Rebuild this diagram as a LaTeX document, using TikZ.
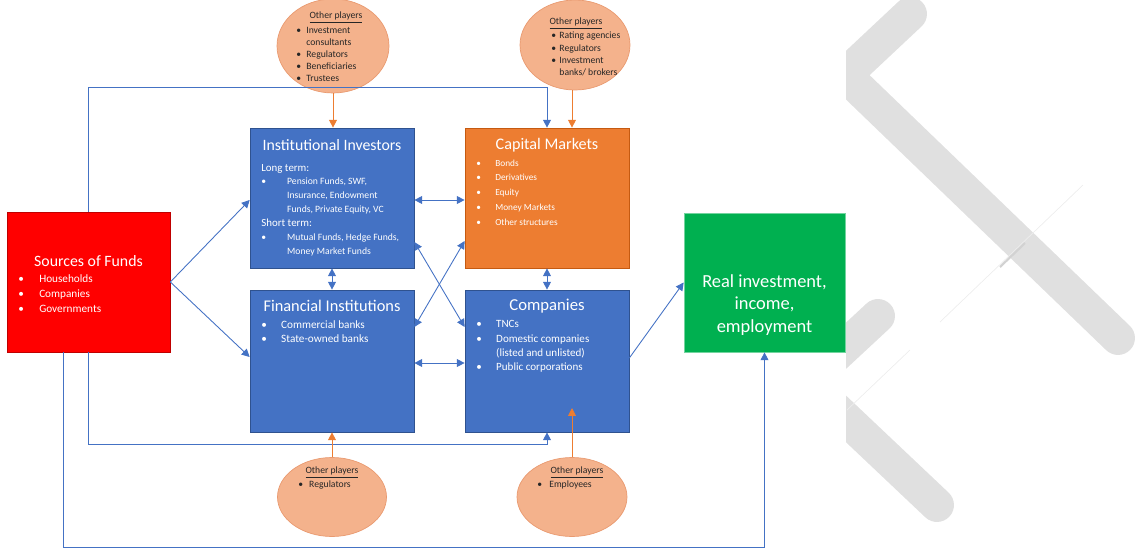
\documentclass[tikz,border=0pt]{standalone}
\usepackage{fontspec}
\setmainfont{Carlito}
\usetikzlibrary{arrows.meta,shapes.geometric}
\definecolor{bblue}{HTML}{4472C4}
\definecolor{bbord}{HTML}{2F528F}
\definecolor{corange}{HTML}{ED7D31}
\definecolor{oborder}{HTML}{C55A11}
\definecolor{sred}{HTML}{FF0000}
\definecolor{ggreen}{HTML}{00B050}
\definecolor{salmon}{HTML}{F4B28C}
\definecolor{salbord}{HTML}{E99A70}
\definecolor{bggray}{HTML}{E0E0E0}
\definecolor{lnblue}{HTML}{4472C4}
\definecolor{etext}{HTML}{262626}
\newcommand{\bu}[1]{\makebox[#1][l]{\textbullet}}
\newcommand{\bi}[1]{\makebox[#1][l]{}}
\tikzset{
  panel/.style={rectangle, draw, line width=0.4pt, inner sep=0pt},
  bluebox/.style={panel, fill=bblue, draw=bbord},
  orangebox/.style={panel, fill=corange, draw=oborder},
  redbox/.style={panel, fill=sred, draw=sred!75!black},
  greenbox/.style={panel, fill=ggreen, draw=ggreen!55!white},
  oval/.style={ellipse, fill=salmon, draw=salbord, line width=0.4pt, inner sep=0pt},
  wtxt/.style={text=white, inner sep=0pt},
  etxt/.style={text=etext, inner sep=0pt},
  conn/.style={draw=lnblue, line width=0.5pt},
  oconn/.style={draw=corange, line width=0.5pt},
  bgband/.style={draw=bggray, line width=19.3pt, line cap=round, line join=round},
  faint/.style={draw=gray!14, line width=0.4pt},
}
\begin{document}
\begin{tikzpicture}[x=0.02cm, y=-0.02cm, >={Triangle[length=4.5pt,width=4.5pt]}]
\useasboundingbox (0,0) rectangle (1137,548);
% background decoration
\begin{scope}
  \clip (846,0) rectangle (1137,548);
  \draw[bgband] (910,14) -- (845,75) -- (1118,338);
  \draw[bgband] (878,316) -- (807,382) -- (937,505);
  \draw[faint] (1083,185) -- (940,322);
  \draw[faint] (910,350) -- (847,410);
  \draw[draw=gray!35, line width=1.2pt] (1000,267) -- (1025,243);
\end{scope}

% boxes
\node[redbox, minimum width=3.26cm, minimum height=2.8cm] (src) at (88.5,282) {};
\node[bluebox, minimum width=3.28cm, minimum height=2.8cm] (inst) at (332,198) {};
\node[orangebox, minimum width=3.28cm, minimum height=2.8cm] (cap) at (547,198) {};
\node[bluebox, minimum width=3.28cm, minimum height=2.84cm] (fin) at (332,361) {};
\node[bluebox, minimum width=3.28cm, minimum height=2.84cm] (comp) at (547,361) {};
\node[greenbox, minimum width=3.22cm, minimum height=2.78cm] (real) at (764.5,282.5) {};

% ellipses
\node[oval, minimum width=2.24cm, minimum height=1.88cm] (tl) at (333,46) {};
\node[oval, minimum width=2.2cm, minimum height=1.8cm] (tr) at (575,45) {};
\node[oval, minimum width=2.18cm, minimum height=1.58cm] (bl) at (332,497) {};
\node[oval, minimum width=2.2cm, minimum height=1.58cm] (br) at (572,497) {};

% box texts
\node[wtxt, font=\fontsize{9}{11}\selectfont] (srct) at (88.5,261) {Sources of Funds};
\node[wtxt, anchor=west, align=left, font=\fontsize{6.4}{8.5}\selectfont] (srcl) at (18,294)
  {\bu{11.9pt}Households\\ \bu{11.9pt}Companies\\ \bu{11.9pt}Governments};

\node[wtxt, font=\fontsize{9}{11}\selectfont] (instt) at (332,145) {Institutional Investors};
\node[wtxt, anchor=west, align=left, font=\fontsize{5.5}{7.9}\selectfont] (instl) at (261,210)
  {{\fontsize{6.2}{7.9}\selectfont Long term:}\\
   \bu{14.7pt}Pension Funds, SWF,\\
   \bi{14.7pt}Insurance, Endowment\\
   \bi{14.7pt}Funds, Private Equity, VC\\
   {\fontsize{6.2}{7.9}\selectfont Short term:}\\
   \bu{14.7pt}Mutual Funds, Hedge Funds,\\
   \bi{14.7pt}Money Market Funds};

\node[wtxt, font=\fontsize{9.2}{11}\selectfont] (capt) at (547,145) {Capital Markets};
\node[wtxt, anchor=west, align=left, font=\fontsize{5.3}{8.4}\selectfont] (capl) at (476,192.5)
  {\bu{10.8pt}Bonds\\ \bu{10.8pt}Derivatives\\ \bu{10.8pt}Equity\\ \bu{10.8pt}Money Markets\\ \bu{10.8pt}Other structures};

\node[wtxt, font=\fontsize{9.3}{11}\selectfont] (fint) at (332,306) {Financial Institutions};
\node[wtxt, anchor=west, align=left, font=\fontsize{6.4}{8.1}\selectfont] (finl) at (261,332)
  {\bu{11.3pt}Commercial banks\\ \bu{11.3pt}State-owned banks};

\node[wtxt, font=\fontsize{9.5}{11}\selectfont] (compt) at (547,306) {Companies};
\node[wtxt, anchor=west, align=left, font=\fontsize{6.3}{8.2}\selectfont] (compl) at (476,346.5)
  {\bu{11.3pt}TNCs\\ \bu{11.3pt}Domestic companies\\ \bi{11.3pt}(listed and unlisted)\\ \bu{11.3pt}Public corporations};

\node[wtxt, align=center, font=\fontsize{10.5}{13}\selectfont] (realt) at (764.5,305)
  {Real investment,\\ income,\\ employment};

% ellipse texts
\node[etxt, font=\fontsize{5.5}{6.9}\selectfont] (tlt) at (336,18) {\underline{Other players}};
\node[etxt, anchor=west, align=left, font=\fontsize{5.5}{6.9}\selectfont] (tll) at (296,54.5)
  {\bu{5.7pt}Investment\\ \bi{5.7pt}consultants\\ \bu{5.7pt}Regulators\\ \bu{5.7pt}Beneficiaries\\ \bu{5.7pt}Trustees};
\node[etxt, font=\fontsize{5.5}{6.9}\selectfont] (trt) at (576,24) {\underline{Other players}};
\node[etxt, anchor=west, align=left, font=\fontsize{5.5}{6.9}\selectfont] (trl) at (551,54)
  {\bu{4.6pt}Rating agencies\\ \bu{4.6pt}Regulators\\ \bu{4.6pt}Investment\\ \bi{4.6pt}banks/ brokers};
\node[etxt, font=\fontsize{5.5}{6.9}\selectfont] (blt) at (332,473) {\underline{Other players}};
\node[etxt, anchor=west, align=left, font=\fontsize{5.5}{6.9}\selectfont] (bll) at (298,485)
  {\bu{6.2pt}Regulators};
\node[etxt, font=\fontsize{5.5}{6.9}\selectfont] (brt) at (577,473) {\underline{Other players}};
\node[etxt, anchor=west, align=left, font=\fontsize{5.5}{6.9}\selectfont] (brl) at (537,485)
  {\bu{6.8pt}Employees};

% helper coordinates
\coordinate (capin) at ([xshift=0.5cm]cap.north);
\coordinate (brtip) at (572,408);

% blue connectors
\draw[conn,->] (src.north) -- ++(0,-124) -| (cap.north);
\draw[conn,->] (src.south) -- ++(0,92) -| (comp.south);
\draw[conn,->] ([xshift=-0.51cm]src.south) -- ++(0,195) -| (real.south);
\draw[conn,->] (src.east) -- ([yshift=-0.04cm]inst.west);
\draw[conn,->] (src.east) -- ([yshift=0.08cm]fin.west);
\draw[conn,<->] ([yshift=-0.04cm]inst.east) -- ([yshift=-0.04cm]cap.west);
\draw[conn,<->] ([yshift=-0.04cm]fin.east) -- ([yshift=-0.04cm]comp.west);
\draw[conn,<->] (inst.south) -- (fin.north);
\draw[conn,<->] (cap.south) -- (comp.north);
\draw[conn,<->] ([yshift=-0.88cm]inst.east) -- ([yshift=0.68cm]comp.west);
\draw[conn,<->] ([yshift=-0.86cm]cap.west) -- ([yshift=0.68cm]fin.east);
\draw[conn,->] ([yshift=0.06cm]comp.east) -- (real.west);

% orange connectors
\draw[oconn,->] (tl.south) -- (tl.south |- inst.north);
\draw[oconn,->] (capin |- tr.south) -- (capin);
\draw[oconn,->] (bl.north) -- (bl.north |- fin.south);
\draw[oconn,->] (br.north) -- (brtip);
\end{tikzpicture}
\end{document}
